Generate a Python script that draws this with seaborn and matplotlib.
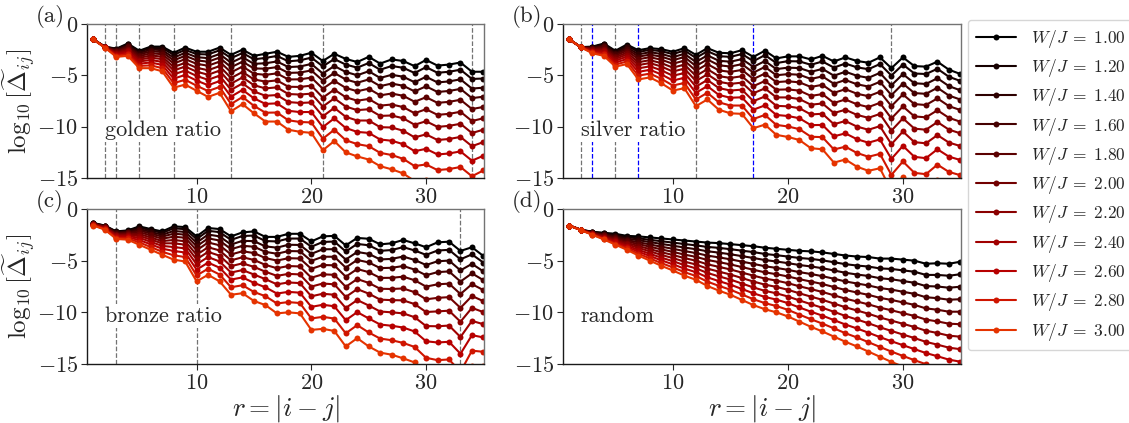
import numpy as np
import pandas as pd
import matplotlib
matplotlib.use("Agg")
import matplotlib.pyplot as plt
import seaborn as sns
from matplotlib.lines import Line2D

# ---- data (rows: r = 1..35, columns: W/J = 1.00 .. 3.00) ----
W_vals = [1.00, 1.20, 1.40, 1.60, 1.80, 2.00, 2.20, 2.40, 2.60, 2.80, 3.00]
r_vals = list(range(1, 36))

golden_vals = [
    [-1.5, -1.5, -1.5, -1.5, -1.5, -1.5, -1.5, -1.5, -1.5, -1.5, -1.5],
    [-2.2, -2.21, -2.21, -2.22, -2.23, -2.24, -2.25, -2.26, -2.27, -2.29, -2.3],
    [-2.4, -2.45, -2.51, -2.58, -2.65, -2.73, -2.81, -2.9, -2.99, -3.1, -3.2],
    [-1.9, -1.97, -2.07, -2.16, -2.27, -2.39, -2.51, -2.64, -2.79, -2.94, -3.1],
    [-2.6, -2.7, -2.84, -2.97, -3.13, -3.3, -3.47, -3.65, -3.86, -4.08, -4.3],
    [-2.2, -2.33, -2.49, -2.66, -2.85, -3.06, -3.27, -3.5, -3.75, -4.03, -4.3],
    [-2.2, -2.34, -2.54, -2.73, -2.94, -3.18, -3.42, -3.69, -3.98, -4.29, -4.6],
    [-2.8, -3.0, -3.28, -3.55, -3.85, -4.19, -4.53, -4.91, -5.32, -5.76, -6.2],
    [-2.3, -2.52, -2.8, -3.09, -3.42, -3.78, -4.14, -4.53, -4.96, -5.43, -5.9],
    [-2.7, -2.93, -3.23, -3.54, -3.88, -4.26, -4.64, -5.06, -5.51, -6.01, -6.5],
    [-2.7, -2.96, -3.32, -3.67, -4.06, -4.5, -4.94, -5.43, -5.96, -6.53, -7.1],
    [-2.3, -2.56, -2.92, -3.27, -3.66, -4.1, -4.54, -5.03, -5.56, -6.13, -6.7],
    [-3.0, -3.33, -3.77, -4.21, -4.71, -5.26, -5.81, -6.41, -7.07, -7.79, -8.5],
    [-2.5, -2.82, -3.24, -3.67, -4.14, -4.67, -5.2, -5.79, -6.42, -7.11, -7.8],
    [-3.1, -3.44, -3.88, -4.33, -4.84, -5.4, -5.96, -6.57, -7.24, -7.97, -8.7],
    [-2.9, -3.3, -3.82, -4.35, -4.95, -5.61, -6.27, -6.99, -7.78, -8.64, -9.5],
    [-2.7, -3.11, -3.65, -4.2, -4.81, -5.49, -6.17, -6.92, -7.73, -8.62, -9.5],
    [-3.2, -3.63, -4.19, -4.76, -5.4, -6.11, -6.82, -7.6, -8.45, -9.38, -10.3],
    [-3.1, -3.54, -4.14, -4.73, -5.39, -6.13, -6.87, -7.69, -8.58, -9.54, -10.5],
    [-2.8, -3.27, -3.89, -4.52, -5.22, -6.0, -6.78, -7.64, -8.57, -9.59, -10.6],
    [-3.6, -4.12, -4.82, -5.51, -6.3, -7.17, -8.04, -8.99, -10.04, -11.17, -12.3],
    [-2.9, -3.41, -4.09, -4.77, -5.54, -6.39, -7.24, -8.17, -9.19, -10.3, -11.4],
    [-3.4, -3.95, -4.67, -5.4, -6.22, -7.13, -8.04, -9.04, -10.13, -11.32, -12.5],
    [-3.7, -4.25, -4.99, -5.72, -6.55, -7.47, -8.39, -9.4, -10.51, -11.7, -12.9],
    [-3.2, -3.8, -4.6, -5.4, -6.3, -7.3, -8.3, -9.4, -10.6, -11.9, -13.2],
    [-3.85, -4.45, -5.25, -6.05, -6.95, -7.95, -8.95, -10.05, -11.25, -12.55, -13.85],
    [-3.45, -4.09, -4.95, -5.8, -6.77, -7.84, -8.91, -10.08, -11.37, -12.76, -14.15],
    [-3.6, -4.26, -5.13, -6.01, -6.99, -8.09, -9.18, -10.39, -11.7, -13.13, -14.55],
    [-4.1, -4.77, -5.67, -6.56, -7.57, -8.69, -9.81, -11.04, -12.39, -13.84, -15.3],
    [-3.5, -4.2, -5.14, -6.07, -7.13, -8.3, -9.47, -10.75, -12.16, -13.68, -15.2],
    [-4.05, -4.75, -5.69, -6.62, -7.68, -8.85, -10.02, -11.3, -12.71, -14.23, -15.7],
    [-3.95, -4.65, -5.59, -6.52, -7.58, -8.75, -9.92, -11.2, -12.61, -14.13, -15.6],
    [-3.75, -4.45, -5.39, -6.32, -7.38, -8.55, -9.72, -11.0, -12.41, -13.93, -15.45],
    [-4.65, -5.35, -6.29, -7.22, -8.28, -9.45, -10.62, -11.9, -13.31, -14.83, -16.4],
    [-4.65, -5.31, -6.2, -7.08, -8.08, -9.18, -10.29, -11.5, -12.83, -14.26, -15.7],
]

silver_vals = [
    [-1.5, -1.5, -1.5, -1.5, -1.5, -1.5, -1.5, -1.5, -1.5, -1.5, -1.5],
    [-2.25, -2.25, -2.25, -2.25, -2.26, -2.26, -2.26, -2.26, -2.26, -2.27, -2.27],
    [-2.2, -2.24, -2.29, -2.34, -2.4, -2.47, -2.53, -2.6, -2.68, -2.77, -2.85],
    [-1.9, -1.97, -2.07, -2.16, -2.27, -2.39, -2.51, -2.64, -2.79, -2.94, -3.1],
    [-2.6, -2.69, -2.82, -2.94, -3.08, -3.24, -3.39, -3.56, -3.75, -3.95, -4.15],
    [-2.0, -2.11, -2.27, -2.42, -2.59, -2.78, -2.97, -3.18, -3.41, -3.65, -3.9],
    [-2.55, -2.72, -2.95, -3.18, -3.43, -3.72, -4.0, -4.32, -4.66, -5.03, -5.4],
    [-2.35, -2.52, -2.75, -2.98, -3.23, -3.52, -3.8, -4.12, -4.46, -4.83, -5.2],
    [-2.45, -2.65, -2.91, -3.18, -3.48, -3.81, -4.14, -4.51, -4.91, -5.34, -5.77],
    [-2.7, -2.93, -3.23, -3.53, -3.87, -4.25, -4.63, -5.04, -5.5, -5.99, -6.48],
    [-2.35, -2.58, -2.9, -3.21, -3.56, -3.95, -4.34, -4.77, -5.24, -5.74, -6.25],
    [-3.0, -3.3, -3.7, -4.1, -4.55, -5.05, -5.55, -6.1, -6.7, -7.35, -8.0],
    [-2.35, -2.65, -3.05, -3.45, -3.9, -4.4, -4.9, -5.45, -6.05, -6.7, -7.35],
    [-2.8, -3.13, -3.58, -4.02, -4.52, -5.08, -5.63, -6.24, -6.91, -7.63, -8.35],
    [-2.85, -3.2, -3.67, -4.14, -4.66, -5.25, -5.83, -6.48, -7.18, -7.94, -8.7],
    [-2.55, -2.92, -3.42, -3.91, -4.47, -5.09, -5.71, -6.39, -7.14, -7.94, -8.75],
    [-3.2, -3.62, -4.17, -4.73, -5.35, -6.05, -6.74, -7.51, -8.34, -9.25, -10.15],
    [-2.6, -3.03, -3.61, -4.18, -4.83, -5.55, -6.27, -7.06, -7.93, -8.86, -9.8],
    [-3.35, -3.8, -4.39, -4.99, -5.66, -6.4, -7.15, -7.97, -8.86, -9.83, -10.8],
    [-3.15, -3.62, -4.25, -4.88, -5.58, -6.37, -7.15, -8.02, -8.96, -9.98, -11.0],
    [-3.15, -3.64, -4.29, -4.94, -5.68, -6.49, -7.31, -8.2, -9.18, -10.24, -11.3],
    [-3.45, -3.97, -4.66, -5.35, -6.13, -7.0, -7.86, -8.81, -9.85, -10.98, -12.1],
    [-3.1, -3.65, -4.37, -5.1, -5.92, -6.83, -7.74, -8.74, -9.83, -11.02, -12.2],
    [-3.65, -4.24, -5.03, -5.82, -6.7, -7.69, -8.67, -9.76, -10.94, -12.22, -13.5],
    [-3.25, -3.85, -4.65, -5.45, -6.35, -7.35, -8.35, -9.45, -10.65, -11.95, -13.2],
    [-3.6, -4.22, -5.04, -5.87, -6.79, -7.82, -8.85, -9.99, -11.22, -12.56, -13.9],
    [-3.77, -4.4, -5.24, -6.09, -7.03, -8.09, -9.14, -10.3, -11.56, -12.93, -14.3],
    [-3.25, -3.9, -4.76, -5.63, -6.6, -7.68, -8.76, -9.95, -11.24, -12.65, -14.05],
    [-4.3, -5.02, -5.97, -6.93, -8.0, -9.2, -10.39, -11.71, -13.14, -14.7, -16.25],
    [-3.25, -3.95, -4.88, -5.81, -6.86, -8.03, -9.19, -10.47, -11.87, -13.39, -14.9],
    [-4.1, -4.82, -5.77, -6.73, -7.8, -9.0, -10.19, -11.51, -12.94, -14.5, -16.05],
    [-4.15, -4.87, -5.84, -6.8, -7.89, -9.09, -10.3, -11.62, -13.07, -14.63, -16.2],
    [-3.67, -4.36, -5.28, -6.21, -7.24, -8.4, -9.55, -10.82, -12.2, -13.7, -15.2],
    [-4.45, -5.14, -6.05, -6.97, -8.0, -9.14, -10.29, -11.55, -12.92, -14.41, -15.9],
    [-4.87, -5.55, -6.46, -7.36, -8.38, -9.52, -10.65, -11.89, -13.25, -14.73, -16.2],
]

bronze_vals = [
    [-1.36, -1.37, -1.39, -1.41, -1.43, -1.46, -1.48, -1.51, -1.54, -1.57, -1.6],
    [-1.6, -1.62, -1.66, -1.69, -1.72, -1.76, -1.8, -1.85, -1.9, -1.95, -2.0],
    [-2.17, -2.21, -2.27, -2.33, -2.4, -2.47, -2.54, -2.62, -2.71, -2.81, -2.9],
    [-2.07, -2.12, -2.2, -2.27, -2.35, -2.44, -2.53, -2.63, -2.74, -2.85, -2.97],
    [-1.68, -1.79, -1.93, -2.07, -2.23, -2.41, -2.59, -2.78, -3.0, -3.23, -3.46],
    [-1.94, -2.06, -2.22, -2.38, -2.56, -2.76, -2.96, -3.18, -3.42, -3.68, -3.94],
    [-2.17, -2.31, -2.49, -2.67, -2.87, -3.1, -3.32, -3.57, -3.84, -4.14, -4.43],
    [-1.68, -1.87, -2.13, -2.39, -2.68, -3.0, -3.32, -3.68, -4.06, -4.48, -4.9],
    [-1.75, -1.95, -2.22, -2.48, -2.78, -3.12, -3.45, -3.81, -4.21, -4.65, -5.08],
    [-2.65, -2.91, -3.26, -3.61, -4.0, -4.43, -4.87, -5.35, -5.87, -6.43, -7.0],
    [-1.84, -2.11, -2.47, -2.84, -3.24, -3.7, -4.15, -4.65, -5.19, -5.78, -6.37],
    [-1.94, -2.24, -2.65, -3.05, -3.51, -4.01, -4.52, -5.08, -5.68, -6.34, -7.0],
    [-2.65, -2.99, -3.44, -3.89, -4.4, -4.97, -5.53, -6.15, -6.83, -7.57, -8.3],
    [-2.26, -2.61, -3.08, -3.56, -4.09, -4.67, -5.26, -5.91, -6.62, -7.38, -8.15],
    [-2.17, -2.57, -3.11, -3.65, -4.26, -4.93, -5.6, -6.34, -7.15, -8.03, -8.9],
    [-2.7, -3.1, -3.62, -4.15, -4.75, -5.41, -6.07, -6.79, -7.58, -8.44, -9.3],
    [-2.7, -3.14, -3.74, -4.33, -4.99, -5.73, -6.47, -7.29, -8.18, -9.14, -10.1],
    [-2.4, -2.86, -3.46, -4.07, -4.76, -5.52, -6.28, -7.11, -8.02, -9.01, -10.0],
    [-2.4, -2.86, -3.48, -4.09, -4.79, -5.56, -6.33, -7.17, -8.1, -9.1, -10.1],
    [-3.14, -3.65, -4.34, -5.02, -5.79, -6.65, -7.51, -8.45, -9.47, -10.59, -11.7],
    [-2.65, -3.19, -3.9, -4.62, -5.42, -6.32, -7.21, -8.2, -9.27, -10.44, -11.6],
    [-2.6, -3.15, -3.89, -4.62, -5.45, -6.37, -7.29, -8.3, -9.41, -10.6, -11.8],
    [-3.52, -4.11, -4.89, -5.67, -6.55, -7.53, -8.51, -9.58, -10.76, -12.03, -13.3],
    [-2.8, -3.38, -4.16, -4.93, -5.81, -6.78, -7.75, -8.81, -9.98, -11.24, -12.5],
    [-2.88, -3.51, -4.34, -5.17, -6.11, -7.15, -8.19, -9.34, -10.59, -11.95, -13.3],
    [-3.42, -4.05, -4.88, -5.72, -6.67, -7.72, -8.77, -9.92, -11.18, -12.54, -13.9],
    [-3.32, -3.97, -4.83, -5.69, -6.66, -7.74, -8.82, -10.0, -11.3, -12.7, -14.1],
    [-3.0, -3.69, -4.6, -5.52, -6.55, -7.69, -8.84, -10.1, -11.47, -12.96, -14.45],
    [-3.32, -4.01, -4.93, -5.86, -6.89, -8.05, -9.2, -10.47, -11.85, -13.35, -14.85],
    [-3.7, -4.44, -5.42, -6.41, -7.51, -8.74, -9.97, -11.33, -12.8, -14.4, -16.0],
    [-3.23, -4.02, -5.06, -6.11, -7.29, -8.6, -9.91, -11.35, -12.92, -14.63, -16.33],
    [-3.16, -3.95, -4.99, -6.04, -7.22, -8.53, -9.84, -11.28, -12.85, -14.56, -16.26],
    [-4.06, -4.87, -5.94, -7.02, -8.23, -9.57, -10.91, -12.39, -14.01, -15.75, -17.5],
    [-3.7, -4.39, -5.31, -6.23, -7.27, -8.42, -9.57, -10.83, -12.21, -13.71, -15.2],
    [-4.55, -5.19, -6.04, -6.89, -7.85, -8.92, -9.98, -11.15, -12.43, -13.82, -15.2],
]

random_vals = [
    [-1.6, -1.6, -1.6, -1.6, -1.6, -1.6, -1.6, -1.6, -1.6, -1.6, -1.6],
    [-2.0, -2.0, -2.01, -2.01, -2.02, -2.02, -2.03, -2.03, -2.04, -2.04, -2.05],
    [-2.2, -2.23, -2.26, -2.29, -2.32, -2.35, -2.38, -2.41, -2.44, -2.47, -2.5],
    [-2.3, -2.37, -2.43, -2.5, -2.56, -2.63, -2.69, -2.76, -2.82, -2.89, -2.95],
    [-2.4, -2.5, -2.61, -2.72, -2.82, -2.93, -3.03, -3.14, -3.24, -3.35, -3.45],
    [-2.6, -2.74, -2.87, -3.01, -3.14, -3.28, -3.41, -3.55, -3.68, -3.82, -3.95],
    [-2.65, -2.84, -3.02, -3.21, -3.39, -3.58, -3.76, -3.95, -4.13, -4.32, -4.5],
    [-2.75, -2.98, -3.2, -3.43, -3.65, -3.88, -4.1, -4.33, -4.55, -4.78, -5.0],
    [-2.85, -3.12, -3.38, -3.65, -3.91, -4.18, -4.44, -4.71, -4.97, -5.24, -5.5],
    [-2.95, -3.25, -3.55, -3.85, -4.15, -4.45, -4.75, -5.05, -5.35, -5.65, -5.95],
    [-3.05, -3.39, -3.73, -4.07, -4.41, -4.75, -5.09, -5.43, -5.77, -6.11, -6.45],
    [-3.15, -3.52, -3.89, -4.26, -4.63, -5.0, -5.37, -5.74, -6.11, -6.48, -6.85],
    [-3.25, -3.67, -4.09, -4.51, -4.93, -5.35, -5.77, -6.19, -6.61, -7.03, -7.45],
    [-3.3, -3.76, -4.22, -4.68, -5.14, -5.6, -6.06, -6.52, -6.98, -7.44, -7.9],
    [-3.4, -3.89, -4.38, -4.87, -5.36, -5.85, -6.34, -6.83, -7.32, -7.81, -8.3],
    [-3.5, -4.03, -4.56, -5.09, -5.62, -6.15, -6.68, -7.21, -7.74, -8.27, -8.8],
    [-3.6, -4.17, -4.74, -5.31, -5.88, -6.45, -7.02, -7.59, -8.16, -8.73, -9.3],
    [-3.75, -4.35, -4.94, -5.54, -6.13, -6.73, -7.32, -7.92, -8.51, -9.11, -9.7],
    [-3.85, -4.47, -5.08, -5.7, -6.31, -6.93, -7.54, -8.16, -8.77, -9.39, -10.0],
    [-3.95, -4.6, -5.24, -5.89, -6.53, -7.18, -7.82, -8.47, -9.11, -9.76, -10.4],
    [-4.05, -4.74, -5.42, -6.11, -6.79, -7.48, -8.16, -8.85, -9.53, -10.22, -10.9],
    [-4.1, -4.83, -5.56, -6.29, -7.02, -7.75, -8.48, -9.21, -9.94, -10.67, -11.4],
    [-4.2, -4.97, -5.73, -6.5, -7.26, -8.03, -8.79, -9.56, -10.32, -11.09, -11.85],
    [-4.35, -5.15, -5.95, -6.75, -7.55, -8.35, -9.15, -9.95, -10.75, -11.55, -12.35],
    [-4.5, -5.34, -6.17, -7.01, -7.84, -8.68, -9.51, -10.35, -11.18, -12.02, -12.85],
    [-4.6, -5.47, -6.34, -7.21, -8.08, -8.95, -9.82, -10.69, -11.56, -12.43, -13.3],
    [-4.65, -5.57, -6.48, -7.4, -8.31, -9.23, -10.14, -11.06, -11.97, -12.89, -13.8],
    [-4.8, -5.75, -6.7, -7.65, -8.6, -9.55, -10.5, -11.45, -12.4, -13.35, -14.3],
    [-4.8, -5.8, -6.8, -7.8, -8.8, -9.8, -10.8, -11.8, -12.8, -13.8, -14.8],
    [-4.9, -5.94, -6.97, -8.01, -9.04, -10.08, -11.11, -12.15, -13.18, -14.22, -15.25],
    [-5.0, -6.07, -7.14, -8.21, -9.28, -10.35, -11.42, -12.49, -13.56, -14.63, -15.7],
    [-5.3, -6.38, -7.46, -8.54, -9.62, -10.7, -11.78, -12.86, -13.94, -15.02, -16.1],
    [-5.25, -6.38, -7.5, -8.63, -9.75, -10.88, -12.0, -13.13, -14.25, -15.38, -16.5],
    [-5.3, -6.46, -7.62, -8.78, -9.94, -11.1, -12.26, -13.42, -14.58, -15.74, -16.9],
    [-5.1, -6.31, -7.52, -8.73, -9.94, -11.15, -12.36, -13.57, -14.78, -15.99, -17.2],
]

golden_marks = [2, 3, 5, 8, 13, 21, 34]
silver_marks = [2, 5, 12, 29]
silver_blue_marks = [3, 7, 17]
bronze_marks = [3, 10, 33]

y_ticks = [0, -5, -10, -15]
x_ticks = [10, 20, 30]

# ---- style ----
sns.set_style("ticks")
plt.rcParams["font.family"] = "serif"
plt.rcParams["font.serif"] = ["cmr10"]
plt.rcParams["mathtext.fontset"] = "cm"
plt.rcParams["axes.formatter.use_mathtext"] = True
plt.rcParams["axes.unicode_minus"] = True

labels = [rf"$W/J\;=\;{w:.2f}$" for w in W_vals]
colors = plt.get_cmap("gist_heat")(np.linspace(0, 0.6, len(W_vals)))
palette = dict(zip(labels, colors))


def to_long(rows):
    df = pd.DataFrame(rows, columns=labels)
    df["r"] = r_vals
    return df.melt(id_vars="r", var_name="W", value_name="val")


fig = plt.figure(figsize=(11.29, 4.23), dpi=100)
positions = {
    "a": [0.0771, 0.5792, 0.3516, 0.3640],
    "b": [0.4987, 0.5792, 0.3525, 0.3640],
    "c": [0.0771, 0.1395, 0.3516, 0.3664],
    "d": [0.4987, 0.1395, 0.3525, 0.3664],
}
panels = [
    ("a", golden_vals, "golden ratio", golden_marks, []),
    ("b", silver_vals, "silver ratio", silver_marks, silver_blue_marks),
    ("c", bronze_vals, "bronze ratio", bronze_marks, []),
    ("d", random_vals, "random", [], []),
]

for key, rows, name, gray_marks, blue_marks in panels:
    ax = fig.add_axes(positions[key])
    for m in gray_marks:
        ax.axvline(m, color="0.45", ls="--", lw=0.9, zorder=1)
    for m in blue_marks:
        ax.axvline(m, color="blue", ls="--", lw=0.9, zorder=1)

    sns.lineplot(data=to_long(rows), x="r", y="val", hue="W", hue_order=labels,
                 palette=palette, marker="o", markersize=4.3, markeredgewidth=0,
                 linewidth=1.5, errorbar=None, legend=False, ax=ax, zorder=2)

    ax.set_xlim(0.45, 35.05)
    ax.set_ylim(-15, 0)
    ax.set_xticks(x_ticks)
    ax.set_yticks(y_ticks)
    ax.tick_params(labelsize=16, length=4, width=0.8, direction="out", pad=2.5)
    ax.set_xlabel("")
    ax.set_ylabel("")
    for s in ["top", "right"]:
        ax.spines[s].set_color("0.45")
    for s in ["left", "bottom"]:
        ax.spines[s].set_color("0.1")
    for s in ax.spines.values():
        s.set_linewidth(1.0)

    ax.text(0.045, 0.31, name, transform=ax.transAxes, fontsize=16,
            ha="left", va="center", zorder=5,
            bbox=dict(facecolor="white", edgecolor="none", pad=1.5))
    ax.text(-0.128, 1.05, f"({key})", transform=ax.transAxes, fontsize=16.5,
            ha="left", va="center")

    if key in ("a", "c"):
        ax.set_ylabel(r"$\log_{10}[\widetilde{\Delta}_{ij}]$", fontsize=18, labelpad=0)
    if key in ("c", "d"):
        ax.set_xlabel(r"$r=|i-j|$", fontsize=19.5, labelpad=0)

handles = [Line2D([0], [0], color=c, lw=1.5, marker="o", markersize=4.3,
                  markeredgewidth=0) for c in colors]
fig.legend(handles, labels, loc="upper left", bbox_to_anchor=(0.8574, 0.953),
           fontsize=12.5, frameon=True, fancybox=True, edgecolor="0.8",
           labelspacing=0.42, handlelength=2.3, handletextpad=0.9, borderpad=0.45,
           borderaxespad=0)

fig.savefig("out.png", dpi=100)
